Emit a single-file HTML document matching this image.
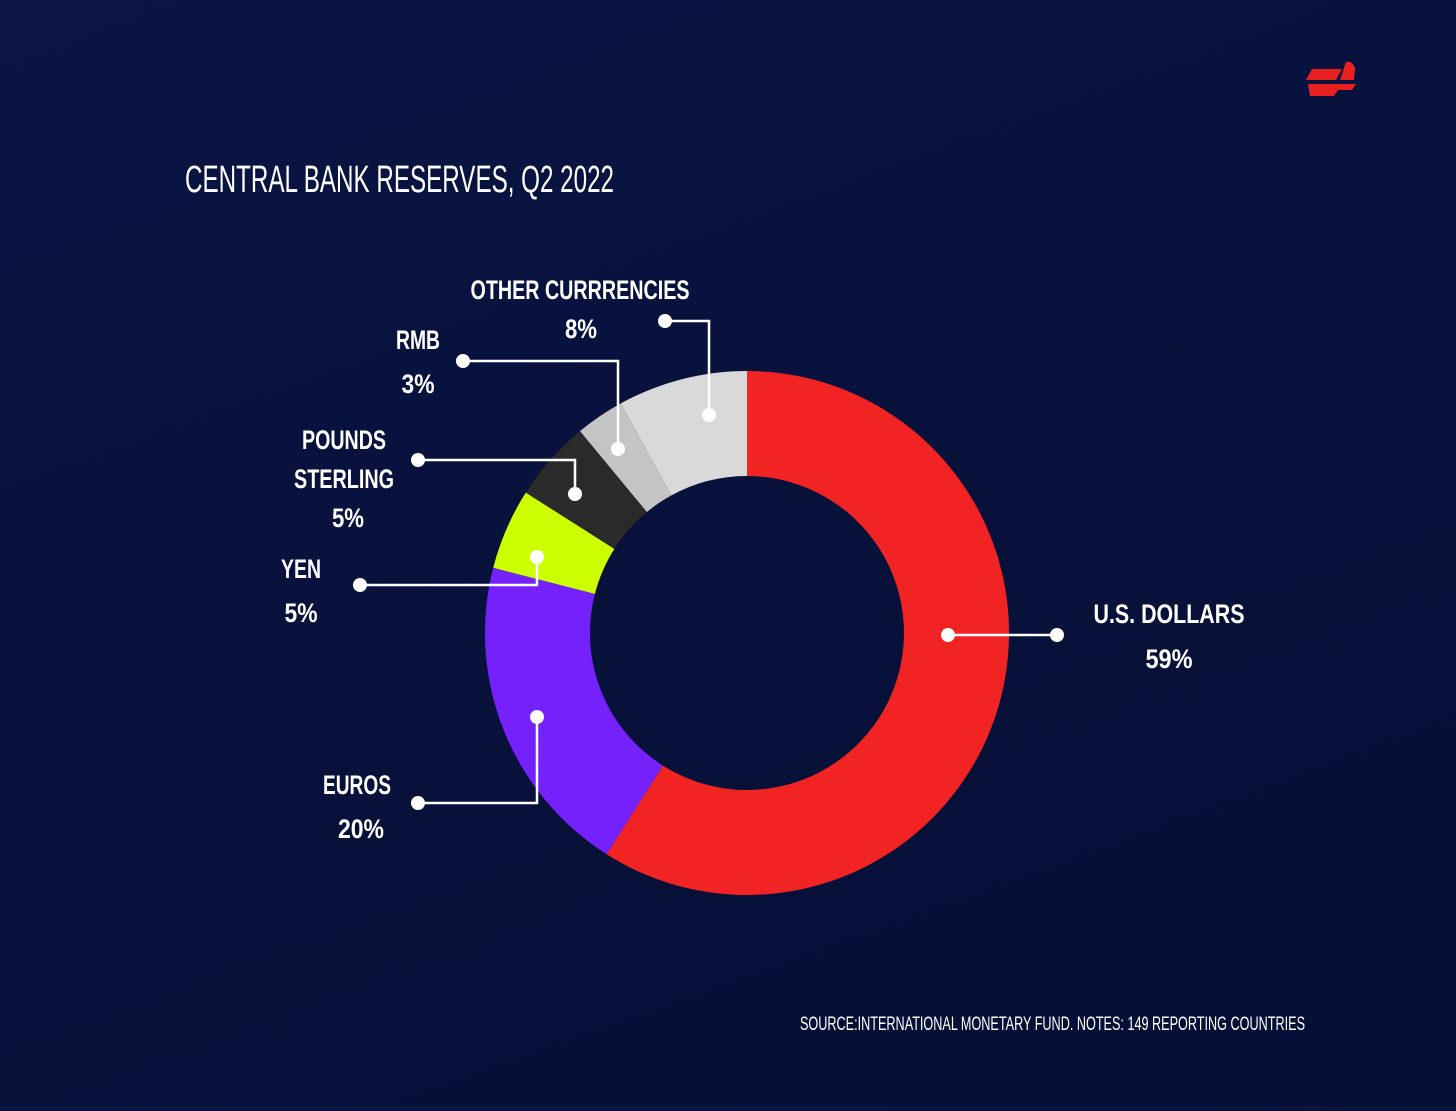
<!DOCTYPE html>
<html><head><style>
html,body{margin:0;padding:0;}
body{width:1456px;height:1106px;overflow:hidden;background:linear-gradient(160deg,#0b1545 0%,#07113a 50%,#061035 100%);}
svg text{font-family:"Liberation Sans Narrow","Liberation Sans",sans-serif;fill:#fff;}
.b{font-weight:bold;font-size:27px;}
</style></head><body>
<svg width="1456" height="1106" viewBox="0 0 1456 1106" xmlns="http://www.w3.org/2000/svg">
<g fill="#e82020">
<path d="M1312 69 L1342 69 L1336 80 L1306 80 Z"/>
<path d="M1346 62 Q1352 60 1355 68 L1354 80 L1340 80 Z"/>
<path d="M1308 84 L1356 84 L1352 90 L1338 90 L1334 96 L1310 96 Z"/>
</g>
<text x="185" y="192" font-size="38" textLength="429" lengthAdjust="spacingAndGlyphs">CENTRAL BANK RESERVES, Q2 2022</text>
<path d="M747 371 A262 262 0 1 1 606.6 854.2 L662.9 765.6 A157 157 0 1 0 747 476 Z" fill="#f22323"/>
<path d="M606.6 854.2 A262 262 0 0 1 493.2 567.8 L594.9 593.9 A157 157 0 0 0 662.9 765.6 Z" fill="#7421fc"/>
<path d="M493.2 567.8 A262 262 0 0 1 525.8 492.6 L614.4 548.9 A157 157 0 0 0 594.9 593.9 Z" fill="#ccff00"/>
<path d="M525.8 492.6 A262 262 0 0 1 580 431.1 L646.9 512 A157 157 0 0 0 614.4 548.9 Z" fill="#2a2a2a"/>
<path d="M580 431.1 A262 262 0 0 1 620.8 403.4 L671.4 495.4 A157 157 0 0 0 646.9 512 Z" fill="#c4c4c4"/>
<path d="M620.8 403.4 A262 262 0 0 1 747 371 L747 476 A157 157 0 0 0 671.4 495.4 Z" fill="#d9d9d9"/>
<g stroke="#fff" stroke-width="2.5" fill="none">
<path d="M948 635 H1057"/>
<path d="M537 717 V803 H418"/>
<path d="M537 557 V585 H360"/>
<path d="M575 494 V460 H418"/>
<path d="M618 449 V361 H463"/>
<path d="M709 415 V321 H665"/>
</g>
<g fill="#fff">
<circle cx="948" cy="635" r="7"/><circle cx="1057" cy="635" r="7"/>
<circle cx="537" cy="717" r="7"/><circle cx="418" cy="803" r="7"/>
<circle cx="537" cy="557" r="7"/><circle cx="360" cy="585" r="7"/>
<circle cx="575" cy="494" r="7"/><circle cx="418" cy="460" r="7"/>
<circle cx="618" cy="449" r="7"/><circle cx="463" cy="361" r="7"/>
<circle cx="709" cy="415" r="7"/><circle cx="665" cy="321" r="7"/>
</g>
<g class="b" text-anchor="middle" lengthAdjust="spacingAndGlyphs">
<text x="580" y="299" textLength="219" lengthAdjust="spacingAndGlyphs">OTHER CURRRENCIES</text>
<text x="581" y="338" textLength="32" lengthAdjust="spacingAndGlyphs">8%</text>
<text x="418" y="349" textLength="44" lengthAdjust="spacingAndGlyphs">RMB</text>
<text x="418" y="393" textLength="33" lengthAdjust="spacingAndGlyphs">3%</text>
<text x="344" y="449" textLength="84" lengthAdjust="spacingAndGlyphs">POUNDS</text>
<text x="344" y="488" textLength="100" lengthAdjust="spacingAndGlyphs">STERLING</text>
<text x="348" y="527" textLength="32" lengthAdjust="spacingAndGlyphs">5%</text>
<text x="301" y="578" textLength="40" lengthAdjust="spacingAndGlyphs">YEN</text>
<text x="301" y="622" textLength="33" lengthAdjust="spacingAndGlyphs">5%</text>
<text x="357" y="794" textLength="68" lengthAdjust="spacingAndGlyphs">EUROS</text>
<text x="361" y="838" textLength="46" lengthAdjust="spacingAndGlyphs">20%</text>
<text x="1169" y="623" textLength="151" lengthAdjust="spacingAndGlyphs">U.S.  DOLLARS</text>
<text x="1169" y="668" textLength="47" lengthAdjust="spacingAndGlyphs">59%</text>
</g>
<text x="800" y="1030" font-size="19" textLength="505" lengthAdjust="spacingAndGlyphs">SOURCE:INTERNATIONAL MONETARY FUND. NOTES: 149 REPORTING COUNTRIES</text>
</svg>
</body></html>
